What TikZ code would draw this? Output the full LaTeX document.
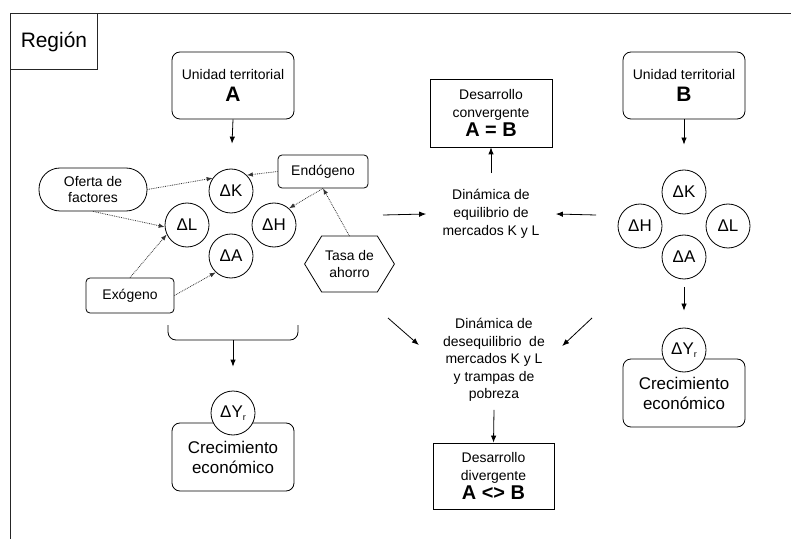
\documentclass[tikz,border=0pt]{standalone}
\usepackage{fontspec}
\setmainfont{Liberation Sans}
\usetikzlibrary{arrows.meta}
\newcommand\fsz[2]{\fontsize{#1}{#2}\selectfont}

\begin{document}
\begin{tikzpicture}[x=1bp,y=-1bp,
  line width=0.8bp,
  every node/.style={inner sep=0pt, align=center},
  arr/.style={draw=black, -{Latex[length=7bp,width=5.5bp]}},
  darr/.style={draw=black!80, densely dotted, -{Latex[length=6bp,width=4.5bp]}},
  unitbox/.style={draw, rounded corners=8bp, minimum width=122bp, minimum height=67bp, font=\fsz{14}{17}},
  smallbox/.style={draw, rounded corners=4bp, font=\fsz{14}{17}},
  resbox/.style={draw, minimum width=122bp, minimum height=68bp, font=\fsz{14}{18}},
  growbox/.style={draw, rounded corners=8bp, minimum width=122bp, minimum height=68bp, font=\fsz{17}{20}},
  factor/.style={draw, circle, minimum size=44bp, fill=white, font=\fsz{17}{17}},
  dyn/.style={font=\fsz{14}{18}},
]
\useasboundingbox (0,0) rectangle (791,539);

% region frame and its label
\draw[black!85] (791,13.5) -- (10,13.5) -- (10,539);
\node[draw=black!85, minimum width=87bp, minimum height=56bp, anchor=north west,
      font=\fsz{21}{21}] (reg) at (10,13.5) {Región};

% ---------------- territorial unit A ----------------
\node[unitbox] (uA) at (233,85.5) {Unidad territorial\\[5bp]{\fsz{21}{21}\bfseries A}};

\node[factor] (kA) at (231,191) {ΔK};
\node[factor] (lA) at (187,225) {ΔL};
\node[factor] (hA) at (274,225) {ΔH};
\node[factor] (aA) at (231,256) {ΔA};

\node[smallbox, minimum width=90bp, minimum height=33bp] (endo) at (323,171.5) {Endógeno};
\node[smallbox, minimum width=88bp, minimum height=35bp] (exo) at (130,295.5) {Exógeno};
\node[draw, rounded corners=21bp, minimum width=108bp, minimum height=43bp,
      font=\fsz{14}{17}] (ofe) at (93,189.5) {Oferta de\\factores};

% savings rate: hexagon around its label
\node[minimum width=89bp, minimum height=55bp, font=\fsz{14}{17}] (tasa) at (349.5,264) {Tasa de\\ahorro};
\draw (tasa.west) -- ([xshift=17bp]tasa.north west) -- ([xshift=-17bp]tasa.north east)
      -- (tasa.east) -- ([xshift=-17bp]tasa.south east) -- ([xshift=17bp]tasa.south west) -- cycle;

\draw[arr, shorten >=25bp] (uA.south) -- (kA.north);

\draw[darr] (ofe.east) -- (kA.145);
\draw[darr] (endo.west) -- (kA.45);
\draw[darr] (tasa.north) -- (endo.south);
\draw[darr] (endo.south) -- (hA.48);
\draw[darr] (ofe.south) -- (lA.185);
\draw[darr] (exo.north) -- (lA.205);
\draw[darr] (exo.east) -- (aA.227);

% bracket gathering the factors
\draw[rounded corners=8bp] (168,325) -- (168,340) -- (298,340) -- (298,325);
\coordinate (brc) at (233,340);

\node[growbox] (cA) at (233,457) {Crecimiento\\económico};
\node[factor] (yA) at (233,413) {ΔY\raisebox{-0.3ex}{\fsz{9}{9}r}};
\draw[arr, shorten >=24bp] (brc) -- (yA.north);

% ---------------- territorial unit B ----------------
\node[unitbox] (uB) at (684,85.5) {Unidad territorial\\[5bp]{\fsz{21}{21}\bfseries B}};

\node[factor] (kB) at (684,192) {ΔK};
\node[factor] (hB) at (640,226) {ΔH};
\node[factor] (lB) at (728,226) {ΔL};
\node[factor] (aB) at (684,257) {ΔA};

\draw[arr, shorten >=25bp] (uB.south) -- (kB.north);

\node[growbox] (cB) at (684,393) {Crecimiento\\económico};
\node[factor] (yB) at (684,350) {ΔY\raisebox{-0.3ex}{\fsz{9}{9}r}};
\draw[arr, shorten <=8bp, shorten >=17bp] (aB.south) -- (yB.north);

% ---------------- market dynamics ----------------
\node[resbox] (conv) at (491,113) {Desarrollo\\convergente\\[1bp]{\fsz{20}{20}\bfseries A = B}};
\node[dyn, inner xsep=16bp, inner ysep=16bp] (eq) at (491,214) {Dinámica de\\equilibrio de\\mercados K y L};
\draw[arr] (eq.north) -- (conv.south);

\coordinate (fromA1) at (383,215);
\coordinate (fromB1) at (596,215);
\draw[arr] (fromA1) -- (eq.west);
\draw[arr] (fromB1) -- (eq.east);

\node[dyn, font=\fsz{14}{17.5}, inner xsep=24bp, inner ysep=8bp] (deseq) at (494,360)
  {Dinámica de\\desequilibrio\ \ de\\mercados K y L\\y trampas de\\pobreza};
\node[resbox, minimum width=121bp, minimum height=66bp] (div) at (493.5,476)
  {Desarrollo\\divergente\\[1bp]{\fsz{20}{20}\bfseries A <> B}};
\draw[arr] (deseq.south) -- (div.north);

\coordinate (fromA2) at (388,318);
\coordinate (fromB2) at (592,318);
\draw[arr] (fromA2) -- ([shift={(0,-15)}]deseq.west);
\draw[arr] (fromB2) -- ([shift={(-7,-14)}]deseq.east);
\end{tikzpicture}
\end{document}
